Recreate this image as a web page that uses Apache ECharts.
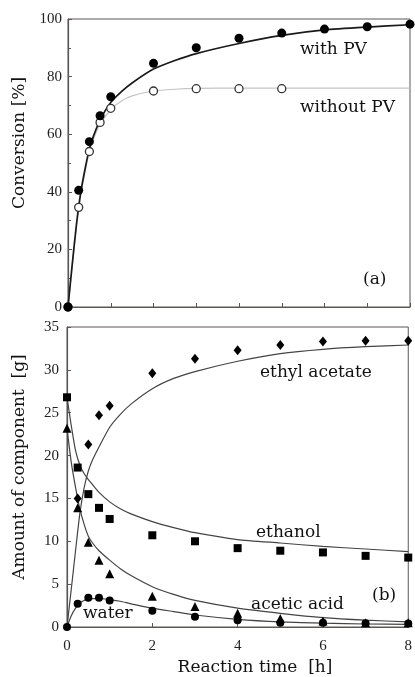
<!DOCTYPE html>
<html>
<head>
<meta charset="utf-8">
<script src="https://cdn.jsdelivr.net/npm/echarts@6/dist/echarts.min.js"></script>
<style>
  html, body { margin: 0; padding: 0; background: #fff; }
  #chart { width: 415px; height: 677px; }
</style>
</head>
<body>
<div id="chart"></div>
<script>
// panel (a): conversion
const timeA = [0, 0.25, 0.5, 0.75, 1, 2, 3, 4, 5, 6, 7, 8]
const withPV = [0, 40.5, 57.4, 66.4, 73, 84.6, 90, 93.3, 95.1, 96.5, 97.3, 98.2]
const timeNoPV = [0, 0.25, 0.5, 0.75, 1, 2, 3, 4, 5]
const withoutPV = [0, 34.6, 54, 64.1, 69, 75, 75.8, 75.8, 75.8]
const curveTimeA = [0, 0.1, 0.2, 0.3, 0.4, 0.5, 0.6, 0.75, 1, 1.25, 1.5, 2, 2.5, 3, 4, 5, 6, 7, 8]
const withPVCurve = [0, 15, 29, 40, 48, 55, 59.5, 65, 71, 74.8, 77.8, 82.6, 85.6, 88, 91.5, 94.3, 96.2, 97.2, 98]
const withoutPVCurve = [0, 14, 28, 39, 47, 54, 58.5, 63.5, 68.5, 71.5, 73.3, 75, 75.6, 75.9, 76, 76, 76, 76, 76]

// panel (b): amount of component [g]
const timeB = [0, 0.25, 0.5, 0.75, 1, 2, 3, 4, 5, 6, 7, 8]
const timeEthyl = [0.25, 0.5, 0.75, 1, 2, 3, 4, 5, 6, 7, 8]
const ethylAcetate = [15.0, 21.3, 24.7, 25.8, 29.6, 31.3, 32.3, 32.9, 33.3, 33.4, 33.4]
const ethanol = [26.8, 18.6, 15.5, 13.9, 12.6, 10.7, 10.0, 9.2, 8.9, 8.7, 8.3, 8.1]
const aceticAcid = [23.2, 13.9, 9.9, 7.8, 6.2, 3.6, 2.4, 1.6, 1.0, 0.7, 0.5, 0.5]
const water = [0, 2.7, 3.4, 3.4, 3.1, 1.9, 1.2, 0.8, 0.5, 0.5, 0.45, 0.4]

const curveTimeB = [0, 0.1, 0.2, 0.3, 0.4, 0.5, 0.6, 0.75, 1, 1.25, 1.5, 2, 2.5, 3, 4, 5, 6, 7, 8]
const ethylCurve = [0, 4.4, 8.9, 13.2, 16.2, 18.2, 19.5, 21.0, 23.3, 24.8, 26.0, 27.8, 29.0, 29.8, 31.0, 31.9, 32.4, 32.7, 32.9]
const ethanolCurve = [26.8, 23.5, 20.6, 18.9, 17.9, 17.2, 16.6, 15.7, 14.6, 13.8, 13.2, 12.3, 11.6, 11.0, 10.2, 9.8, 9.4, 9.1, 8.8]
const aceticCurve = [23.2, 19.2, 16.3, 13.8, 12.0, 10.6, 9.8, 8.9, 7.8, 6.8, 6.0, 4.7, 3.8, 3.1, 2.2, 1.6, 1.1, 0.8, 0.6]
const waterCurve = [0, 1.3, 2.2, 2.8, 3.1, 3.25, 3.3, 3.35, 3.2, 3.0, 2.7, 2.2, 1.8, 1.4, 0.9, 0.6, 0.45, 0.35, 0.3]

const pairs = (xs, ys) => xs.map((x, i) => [x, ys[i]])

const serif = '"DejaVu Serif", serif'
const tickFont = '"Liberation Serif", serif'
const frame = '#5a5654'

const chart = echarts.init(document.getElementById('chart'))

const axisBase = {
  type: 'value',
  axisLine: { show: true, lineStyle: { color: frame, width: 1.2 } },
  axisTick: { inside: true, length: 4, lineStyle: { color: frame } },
  minorTick: { show: false },
  splitLine: { show: false },
  axisLabel: { color: '#222', fontFamily: tickFont, fontSize: 15 },
}

const curve = (name, xs, ys, color, width, xi) => ({
  name,
  type: 'line',
  xAxisIndex: xi,
  yAxisIndex: xi,
  data: pairs(xs, ys),
  smooth: 0.2,
  symbol: 'none',
  lineStyle: { color, width },
  z: 2,
})

const dots = (name, xs, ys, symbol, size, xi, style) => ({
  name,
  type: 'scatter',
  xAxisIndex: xi,
  yAxisIndex: xi,
  data: pairs(xs, ys),
  symbol,
  symbolSize: size,
  clip: false,
  itemStyle: { color: '#000', opacity: 1, ...style },
  z: 5,
})

const label = (text, x, y) => ({
  type: 'text',
  x,
  y,
  style: { text, font: '17px ' + serif, fill: '#111', textAlign: 'left', textVerticalAlign: 'middle' },
})

chart.setOption({
  animation: false,
  grid: [
    { left: 68, top: 19, width: 342, height: 288, show: true, borderColor: frame, borderWidth: 1, backgroundColor: 'transparent' },
    { left: 67, top: 327, width: 342, height: 300, show: true, borderColor: frame, borderWidth: 1, backgroundColor: 'transparent' },
  ],
  xAxis: [
    { ...axisBase, gridIndex: 0, min: 0, max: 8, interval: 1, axisLabel: { show: false } },
    { ...axisBase, gridIndex: 1, min: 0, max: 8, interval: 2, axisLabel: { ...axisBase.axisLabel, margin: 12 } },
  ],
  yAxis: [
    {
      ...axisBase, gridIndex: 0, min: 0, max: 100, interval: 20,
      minorTick: { show: true, splitNumber: 2, length: 3, lineStyle: { color: frame } },
      axisLabel: { ...axisBase.axisLabel, margin: 6 },
    },
    { ...axisBase, gridIndex: 1, min: 0, max: 35, interval: 5, axisLabel: { ...axisBase.axisLabel, margin: 8 } },
  ],
  series: [
    curve('without PV fit', curveTimeA, withoutPVCurve, '#c4c4c4', 1.2, 0),
    curve('with PV fit', curveTimeA, withPVCurve, '#1a1a1a', 1.7, 0),
    dots('without PV', timeNoPV, withoutPV, 'circle', 8, 0, { color: '#fff', borderColor: '#333', borderWidth: 1.3 }),
    dots('with PV', timeA, withPV, 'circle', 9, 0),

    curve('ethyl acetate fit', curveTimeB, ethylCurve, '#444', 1.2, 1),
    curve('ethanol fit', curveTimeB, ethanolCurve, '#444', 1.2, 1),
    curve('acetic acid fit', curveTimeB, aceticCurve, '#444', 1.2, 1),
    curve('water fit', curveTimeB, waterCurve, '#444', 1.2, 1),
    dots('ethyl acetate', timeEthyl, ethylAcetate, 'diamond', [8, 10], 1),
    dots('ethanol', timeB, ethanol, 'rect', 8, 1),
    dots('acetic acid', timeB, aceticAcid, 'triangle', 9, 1),
    dots('water', timeB, water, 'circle', 8, 1),
  ],
  graphic: [
    label('with PV', 300, 50),
    label('without PV', 300, 108),
    label('(a)', 363, 280),
    label('ethyl acetate', 260, 373),
    label('ethanol', 256, 533),
    label('acetic acid', 251, 605),
    label('water', 83, 614),
    label('(b)', 372, 596),
    {
      type: 'text', x: 20, y: 143, rotation: Math.PI / 2,
      style: { text: 'Conversion [%]', font: '17px ' + serif, fill: '#111', textAlign: 'center', textVerticalAlign: 'middle' },
    },
    {
      type: 'text', x: 20, y: 467, rotation: Math.PI / 2,
      style: { text: 'Amount of component  [g]', font: '17px ' + serif, fill: '#111', textAlign: 'center', textVerticalAlign: 'middle' },
    },
    {
      type: 'text', x: 255, y: 668,
      style: { text: 'Reaction time  [h]', font: '17px ' + serif, fill: '#111', textAlign: 'center', textVerticalAlign: 'middle' },
    },
  ],
})

window.addEventListener('resize', () => chart.resize())
</script>
</body>
</html>
